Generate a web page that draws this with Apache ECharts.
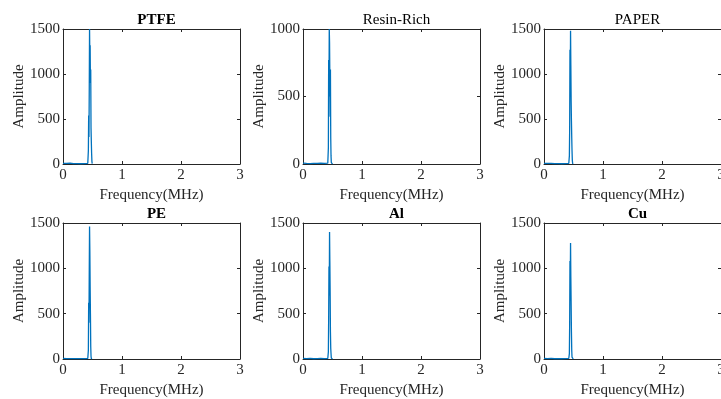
<!DOCTYPE html>
<html>
<head>
<meta charset="utf-8">
<script src="https://cdn.jsdelivr.net/npm/echarts@6/dist/echarts.min.js"></script>
<style>
  html, body { margin: 0; padding: 0; background: #fff; }
  #chart { width: 721px; height: 399px; }
</style>
</head>
<body>
<div id="chart"></div>
<script>
// Frequency samples (MHz) shared by all six spectra
const freq = [0, 0.03, 0.06, 0.09, 0.12, 0.15, 0.18, 0.21, 0.24, 0.27, 0.30, 0.33, 0.36, 0.39, 0.42,
              0.425, 0.43, 0.435, 0.44, 0.445, 0.45, 0.455, 0.46, 0.465, 0.47, 0.475, 0.48, 0.485, 0.49, 0.495, 0.5];

const ampPTFE  = [8, 6, 7, 5, 9, 6, 4, 7, 5, 6, 3, 5, 4, 6, 8,
                  20, 150, 540, 300, 820, 1500, 1180, 1320, 900, 1050, 400, 250, 120, 30, 5, 0];
const ampResin = [6, 5, 4, 6, 3, 5, 4, 3, 5, 4, 6, 3, 4, 5, 6,
                  15, 120, 770, 500, 1000, 900, 650, 350, 700, 200, 60, 10, 0, 0, 0, 0];
const ampPaper = [7, 5, 6, 4, 8, 5, 4, 6, 5, 4, 3, 5, 4, 5, 6,
                  15, 90, 380, 1270, 800, 1480, 1100, 700, 480, 300, 150, 40, 10, 0, 0, 0];
const ampPE    = [6, 5, 4, 6, 5, 4, 5, 3, 4, 5, 4, 6, 5, 4, 6,
                  18, 100, 620, 400, 960, 1460, 1200, 800, 500, 140, 30, 5, 0, 0, 0, 0];
const ampAl    = [7, 6, 5, 4, 6, 5, 3, 4, 5, 4, 6, 3, 4, 5, 6,
                  12, 80, 450, 1020, 700, 1400, 1080, 740, 300, 120, 60, 10, 0, 0, 0, 0];
const ampCu    = [6, 5, 4, 5, 6, 4, 3, 5, 4, 5, 3, 4, 5, 4, 6,
                  10, 60, 380, 1080, 820, 1280, 900, 600, 300, 100, 20, 0, 0, 0, 0, 0];

const titles = ['PTFE', 'Resin-Rich', 'PAPER', 'PE', 'Al', 'Cu'];
const titleBold = [true, false, false, true, true, true];
const amps = [ampPTFE, ampResin, ampPaper, ampPE, ampAl, ampCu];
const yMax = [1500, 1000, 1500, 1500, 1500, 1500];
const yStep = [500, 500, 500, 500, 500, 500];

const FONT = 'Liberation Serif';
const INK = '#262626';
const LINE = '#0072BD';

const lefts = [63, 303, 544];
const tops = [29, 223];
const W = 177;
const H = [135, 136];

const grid = [], xAxis = [], yAxis = [], series = [], title = [];

for (let i = 0; i < 6; i++) {
  const r = Math.floor(i / 3), c = i % 3;
  grid.push({ left: lefts[c], top: tops[r], width: W, height: H[r],
              show: false, containLabel: false, outerBoundsMode: 'none' });
  title.push({
    text: titles[i],
    left: lefts[c] + W / 2,
    top: tops[r] - 21,
    textAlign: 'center',
    textStyle: { fontFamily: FONT, fontSize: 15, fontWeight: titleBold[i] ? 'bold' : 'normal', color: '#000' }
  });
  const axLine = { show: true, onZero: false, lineStyle: { color: INK, width: 1 } };
  const tickIn = { show: true, inside: true, length: 3, lineStyle: { color: INK } };
  const plain = v => String(v);
  // bottom frequency axis
  xAxis.push({
    type: 'value', gridIndex: i, min: 0, max: 3, interval: 1, position: 'bottom',
    name: 'Frequency(MHz)', nameLocation: 'middle', nameGap: 24,
    nameTextStyle: { fontFamily: FONT, fontSize: 15, color: INK },
    axisLine: axLine, axisTick: tickIn, splitLine: { show: false },
    axisLabel: { fontFamily: FONT, fontSize: 15, color: INK, margin: 4, formatter: plain }
  });
  // top frame axis
  xAxis.push({
    type: 'value', gridIndex: i, min: 0, max: 3, interval: 1, position: 'top',
    axisLine: axLine, axisTick: tickIn, splitLine: { show: false },
    axisLabel: { show: false }
  });
  // left amplitude axis
  yAxis.push({
    type: 'value', gridIndex: i, min: 0, max: yMax[i], interval: yStep[i], position: 'left',
    name: 'Amplitude', nameLocation: 'middle', nameGap: 35, nameRotate: 90,
    nameTextStyle: { fontFamily: FONT, fontSize: 15, color: INK },
    axisLine: axLine, axisTick: tickIn, splitLine: { show: false },
    axisLabel: { fontFamily: FONT, fontSize: 15, color: INK, margin: 3, formatter: plain }
  });
  // right frame axis
  yAxis.push({
    type: 'value', gridIndex: i, min: 0, max: yMax[i], interval: yStep[i], position: 'right',
    axisLine: axLine, axisTick: tickIn, splitLine: { show: false },
    axisLabel: { show: false }
  });
  series.push({
    type: 'line', xAxisIndex: 2 * i, yAxisIndex: 2 * i,
    data: freq.map((f, k) => [f, amps[i][k]]),
    showSymbol: false, symbol: 'none', clip: true,
    lineStyle: { color: LINE, width: 1.3 },
    animation: false
  });
}

const chart = echarts.init(document.getElementById('chart'), null, { renderer: 'canvas' });
chart.setOption({ backgroundColor: '#fff', animation: false, title, grid, xAxis, yAxis, series });
</script>
</body>
</html>
